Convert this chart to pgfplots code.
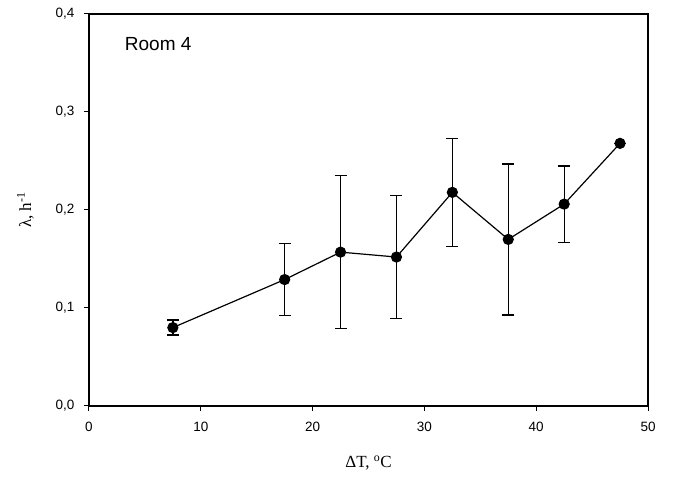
\documentclass[border=0pt]{standalone}
\usepackage{fontspec}
\setmainfont{Liberation Sans}
\newfontfamily\serif{Liberation Serif}
\usepackage{pgfplots}
\pgfplotsset{compat=1.18}
\begin{document}
\begin{tikzpicture}
\begin{axis}[
    scale only axis,
    width=559pt, height=392pt,
    xmin=0, xmax=50, ymin=0, ymax=0.4,
    xtick={0,10,...,50},
    ytick={0,0.1,0.2,0.3,0.4},
    tick pos=left,
    tick align=outside,
    major tick length=5pt,
    axis line style={line width=1.2pt},
    tick style={line width=1pt, black},
    ticklabel style={font=\fontsize{13.5}{15}\selectfont},
    /pgf/number format/assume math mode=true,
    xticklabel style={yshift=-8pt},
    yticklabel style={xshift=-6pt, /pgf/number format/.cd, use comma, fixed, fixed zerofill, precision=1},
    xlabel={\serif ΔT, \textsuperscript{o}C},
    ylabel={\serif λ, h\textsuperscript{-1}},
    label style={font=\fontsize{17}{19}\selectfont},
    xlabel style={at={(axis description cs:0.5,-0.145)}, anchor=center},
    ylabel style={at={(axis description cs:-0.114,0.5)}, anchor=center},
    clip=false,
]
\addplot[
    black, line width=1.2pt,
    mark=*, mark size=5pt, mark options={solid, fill=black},
    error bars/.cd, y dir=both, y explicit,
    error bar style={line width=1.3pt},
    error mark options={rotate=90, mark size=6pt, line width=1.3pt},
] coordinates {
    (7.5,0.080) +- (0,0.0077)
    (17.5,0.129) +- (0,0.037)
    (22.5,0.157) +- (0,0.078)
    (27.5,0.152) +- (0,0.063)
    (32.5,0.218) +- (0,0.055)
    (37.5,0.170) +- (0,0.077)
    (42.5,0.206) +- (0,0.039)
    (47.5,0.268) +- (0,0)
};
\node[anchor=west, font=\fontsize{19}{21}\selectfont] at (axis cs:2.9,0.369) {Room 4};
\coordinate (ll) at (rel axis cs:0,0);
\coordinate (ur) at (rel axis cs:1,1);
\end{axis}
\path ([shift={(-89pt,-77pt)}]ll) rectangle ([shift={(28pt,14pt)}]ur);
\end{tikzpicture}
\end{document}
